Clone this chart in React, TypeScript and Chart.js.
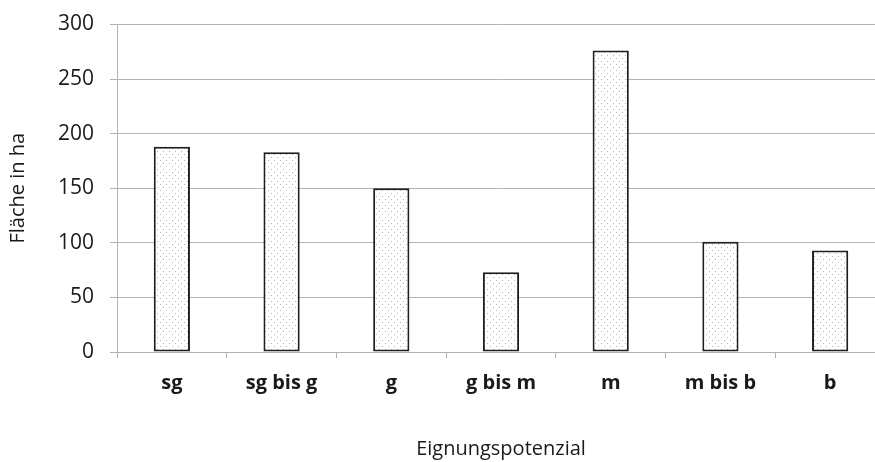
import React, { useEffect, useRef } from "react";
import { Chart, registerables } from "chart.js";

Chart.register(...registerables);

const categories = ["sg", "sg bis g", "g", "g bis m", "m", "m bis b", "b"];
const areaValues = [188, 183, 150, 73, 276, 101, 93];
const yTitle = "Fläche in ha";
const xTitle = "Eignungspotenzial";

function makePattern(): CanvasPattern | string {
  const c = document.createElement("canvas");
  c.width = 6;
  c.height = 6;
  const g = c.getContext("2d");
  if (!g) return "#fff";
  g.fillStyle = "#ffffff";
  g.fillRect(0, 0, 6, 6);
  g.fillStyle = "#b4b4b4";
  g.fillRect(1, 1, 1, 1);
  g.fillRect(4, 4, 1, 1);
  const p = g.createPattern(c, "repeat");
  return p || "#fff";
}

export default function App() {
  const ref = useRef<HTMLCanvasElement | null>(null);
  useEffect(() => {
    document.body.style.margin = "0";
    const canvas = ref.current;
    if (!canvas) return;
    const font = "'Open Sans', sans-serif";
    const chart = new Chart(canvas, {
      type: "bar",
      data: {
        labels: categories,
        datasets: [
          {
            data: areaValues,
            backgroundColor: makePattern() as any,
            borderColor: "#1e1e1e",
            borderWidth: 2,
            borderSkipped: false,
            categoryPercentage: 1,
            barPercentage: 0.33,
          },
        ],
      },
      options: {
        responsive: false,
        animation: false,
        devicePixelRatio: 1,
        layout: { padding: { top: 0, right: 5, left: 0, bottom: 0 } },
        plugins: { legend: { display: false }, tooltip: { enabled: false } },
        scales: {
          y: {
            min: 0,
            max: 300,
            ticks: {
              stepSize: 50,
              color: "#1a1a1a",
              padding: 16,
              font: { family: font, size: 21, lineHeight: 0.8 },
            },
            grid: {
              color: "#b3b3b3",
              lineWidth: 1,
              tickLength: 7,
            },
            border: { display: true, color: "#b3b3b3", width: 1 },
            title: {
              display: true,
              text: yTitle,
              color: "#1a1a1a",
              font: { family: font, size: 20 },
              padding: { top: 6, bottom: 0 },
            },
            afterFit: (s: any) => {
              s.width = 117;
            },
          },
          x: {
            ticks: {
              color: "#1a1a1a",
              padding: 13,
              font: { family: font, size: 20, weight: "bold" },
            },
            grid: {
              display: true,
              offset: true,
              drawOnChartArea: false,
              drawTicks: true,
              tickLength: 6,
              color: "#b3b3b3",
            },
            border: { display: true, color: "#b3b3b3", width: 1 },
            title: {
              display: true,
              text: xTitle,
              color: "#1a1a1a",
              font: { family: font, size: 20 },
              padding: { top: 0, bottom: 1 },
            },
            afterFit: (s: any) => {
              s.height = 110;
            },
          },
        },
      },
    });
    return () => chart.destroy();
  }, []);
  return (
    <div
      style={{
        position: "fixed",
        left: 0,
        top: 0,
        width: 875,
        height: 462,
        overflow: "hidden",
        background: "#fff",
      }}
    >
      <canvas ref={ref} width={890} height={462} style={{ display: "block" }} />
    </div>
  );
}
